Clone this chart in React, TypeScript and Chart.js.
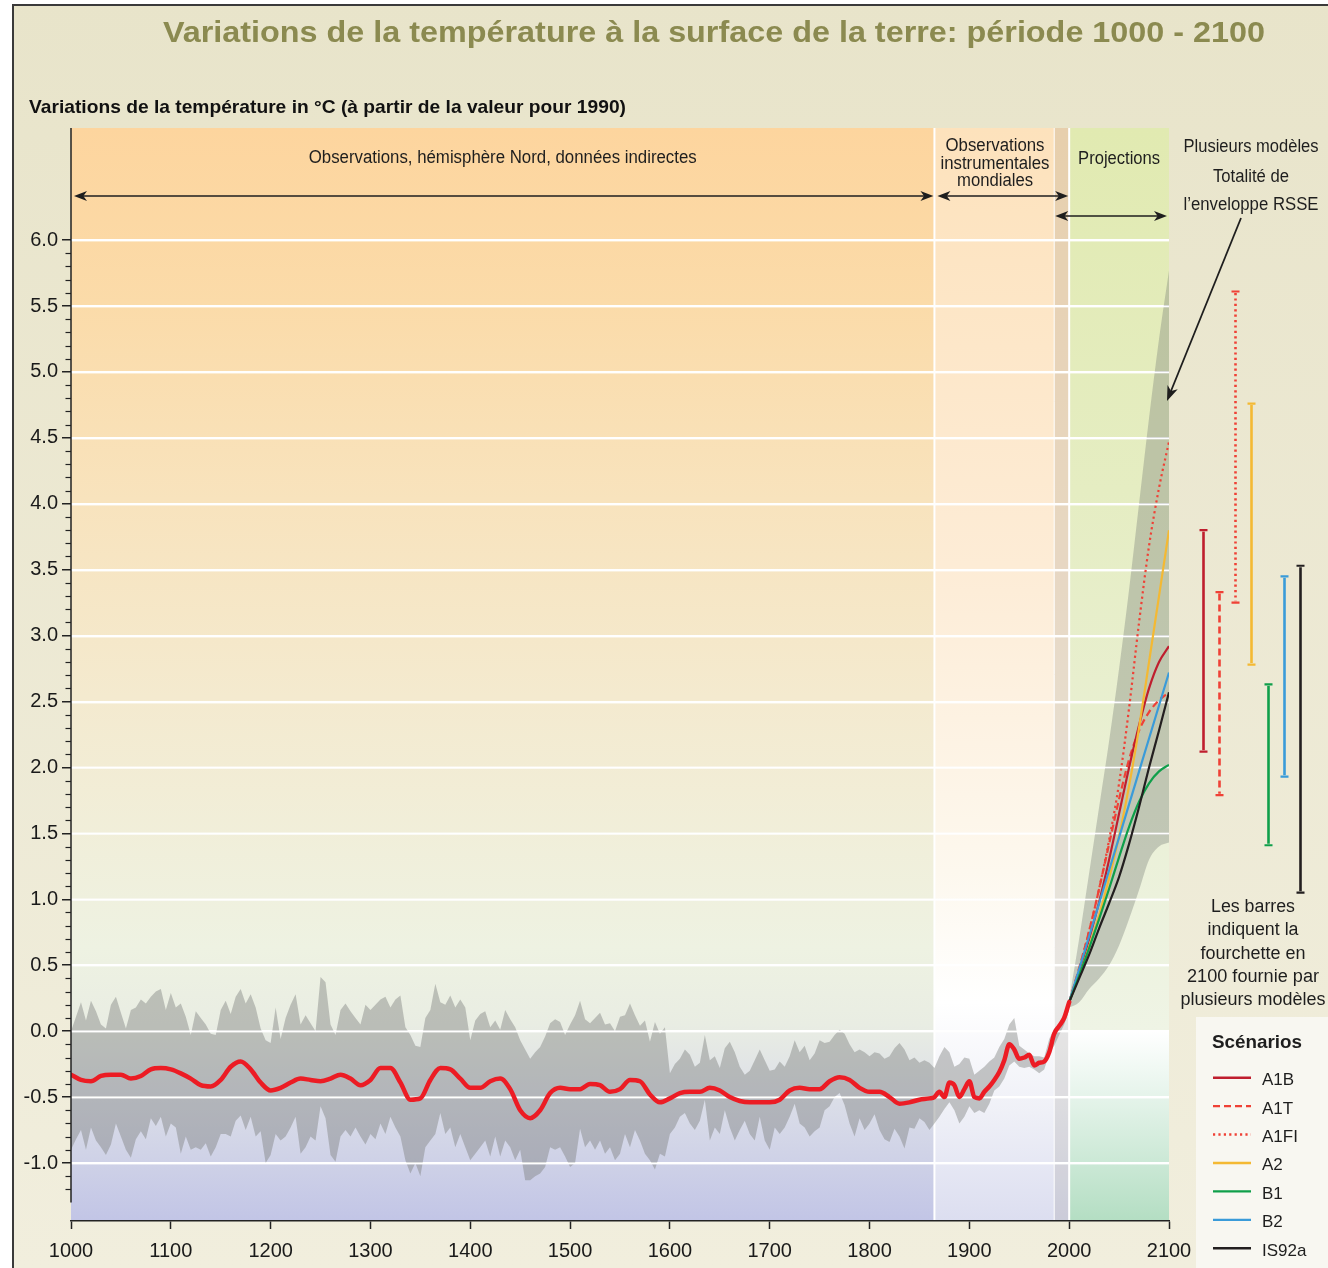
import React, { useEffect, useRef } from 'react';
import { Chart, registerables } from 'chart.js';

Chart.register(...registerables);

const FONT = '"Liberation Sans", Arial, Helvetica, sans-serif';
const W = 1328;
const H = 1268;

// ---------------- DATA ----------------
// Uncertainty band of reconstructed / measured temperatures, 1000-2000, every 5 years
const BAND_START_YEAR = 1000;
const BAND_STEP_YEARS = 5;
const bandUpper = [
  0.0, 0.11, 0.22, 0.08, 0.23, 0.15, 0.05, 0.02, 0.2, 0.26,
  0.14, 0.02, 0.16, 0.18, 0.24, 0.21, 0.26, 0.3, 0.32, 0.16,
  0.29, 0.18, 0.21, 0.11, -0.03, 0.15, 0.1, 0.05, -0.02, -0.03,
  0.16, 0.23, 0.13, 0.26, 0.32, 0.21, 0.28, 0.18, 0.02, -0.07,
  -0.09, 0.18, -0.06, 0.1, 0.2, 0.28, 0.05, 0.12, 0.06, 0.0,
  0.41, 0.37, 0.05, -0.03, 0.16, 0.21, 0.15, 0.1, 0.05, 0.2,
  0.16, 0.2, 0.24, 0.26, 0.18, 0.24, 0.27, 0.03, -0.03, -0.11,
  -0.12, 0.1, 0.16, 0.36, 0.22, 0.2, 0.27, 0.18, 0.24, 0.18,
  -0.07, 0.08, 0.13, 0.15, 0.03, 0.08, 0.01, 0.16, 0.09, 0.03,
  -0.07, -0.14, -0.21, -0.16, -0.12, -0.04, 0.06, 0.09, 0.07, -0.03,
  0.05, 0.12, 0.23, 0.09, 0.06, 0.1, 0.14, 0.05, 0.06, 0.0,
  0.11, 0.12, 0.21, 0.12, 0.04, 0.08, -0.08, 0.07, -0.02, 0.03,
  -0.32, -0.25, -0.21, -0.14, -0.18, -0.27, -0.24, -0.03, -0.22, -0.19,
  -0.28, -0.13, -0.08, -0.16, -0.27, -0.33, -0.3, -0.22, -0.14, -0.22,
  -0.3, -0.29, -0.23, -0.27, -0.19, -0.07, -0.16, -0.11, -0.22, -0.17,
  -0.07, -0.09, -0.08, -0.03, 0.01, -0.02, -0.1, -0.16, -0.14, -0.16,
  -0.19, -0.16, -0.17, -0.21, -0.19, -0.13, -0.09, -0.14, -0.22, -0.2,
  -0.24, -0.22, -0.24, -0.28, -0.19, -0.12, -0.16, -0.27, -0.25, -0.2,
  -0.21, -0.33, -0.3, -0.27, -0.23, -0.2, -0.12, -0.06, 0.05, 0.1,
  -0.11, -0.14, -0.17, -0.19, -0.19, -0.2, -0.06, 0.02, 0.06, 0.1,
  0.2,
];
const bandLower = [
  -0.9, -0.82, -0.75, -0.9, -0.73, -0.83, -0.88, -0.94, -0.86, -0.7,
  -0.8, -0.9, -0.96, -0.82, -0.76, -0.82, -0.66, -0.72, -0.65, -0.8,
  -0.7, -0.73, -0.93, -0.8, -0.9, -0.88, -0.9, -0.85, -0.95, -0.88,
  -0.78, -0.78, -0.8, -0.68, -0.64, -0.75, -0.65, -0.8, -0.76, -1.0,
  -0.94, -0.78, -0.83, -0.8, -0.73, -0.65, -0.93, -0.88, -0.8, -0.83,
  -0.57, -0.66, -0.94, -0.99, -0.8, -0.75, -0.8, -0.73, -0.8, -0.86,
  -0.78, -0.82, -0.7, -0.78, -0.65, -0.73, -0.8, -0.98, -1.08, -1.0,
  -1.1, -0.88, -0.83, -0.78, -0.62, -0.78, -0.73, -0.88, -0.78, -0.88,
  -0.98, -0.93, -0.88, -0.83, -0.95, -0.8, -0.95, -0.83, -0.88, -0.98,
  -0.9, -1.13, -1.13, -1.1, -1.08, -1.03, -0.88, -0.9, -0.88, -0.95,
  -1.03, -1.0, -0.74, -0.88, -0.83, -0.9, -0.83, -0.93, -0.88, -0.98,
  -0.93, -0.78, -0.88, -0.75, -0.83, -0.93, -0.98, -1.05, -0.93, -0.95,
  -0.78, -0.73, -0.65, -0.62, -0.7, -0.75, -0.68, -0.52, -0.83, -0.73,
  -0.78, -0.6, -0.73, -0.83, -0.75, -0.68, -0.78, -0.83, -0.65, -0.83,
  -0.9, -0.73, -0.78, -0.73, -0.65, -0.55, -0.7, -0.73, -0.8, -0.76,
  -0.73, -0.6, -0.57, -0.5, -0.47, -0.56, -0.7, -0.8, -0.66, -0.75,
  -0.7, -0.63, -0.75, -0.82, -0.84, -0.74, -0.8, -0.89, -0.73, -0.74,
  -0.66, -0.69, -0.75, -0.7, -0.65, -0.59, -0.54, -0.6, -0.7, -0.65,
  -0.57, -0.62, -0.6, -0.62, -0.55, -0.45, -0.42, -0.36, -0.26, -0.23,
  -0.27, -0.28, -0.27, -0.29, -0.32, -0.29, -0.17, -0.11, -0.03, 0.05,
  0.16,
];

// Smoothed northern-hemisphere proxy series, 1000-1860 every 10 years
const PROXY_START_YEAR = 1000;
const PROXY_STEP_YEARS = 10;
const redProxy = [
  -0.33, -0.37, -0.38, -0.34, -0.33, -0.33, -0.36, -0.34, -0.29, -0.28,
  -0.29, -0.32, -0.36, -0.41, -0.42, -0.37, -0.27, -0.23, -0.29, -0.39,
  -0.45, -0.43, -0.39, -0.36, -0.37, -0.38, -0.36, -0.33, -0.36, -0.41,
  -0.37, -0.28, -0.28, -0.39, -0.52, -0.51, -0.37, -0.28, -0.29, -0.36,
  -0.43, -0.43, -0.38, -0.36, -0.44, -0.6, -0.66, -0.6, -0.47, -0.43,
  -0.44, -0.44, -0.4, -0.41, -0.46, -0.44, -0.37, -0.38, -0.48, -0.54,
  -0.51, -0.47, -0.46, -0.46, -0.43, -0.45, -0.5, -0.53, -0.54, -0.54,
  -0.54, -0.52, -0.45, -0.43, -0.44, -0.44, -0.38, -0.35, -0.37, -0.43,
  -0.46, -0.46, -0.5, -0.55, -0.54, -0.52, -0.51,
];
// Instrumental global series, 1865-2000 every 5 years
const INSTR_START_YEAR = 1865;
const INSTR_STEP_YEARS = 5;
const redInstrumental = [
  -0.5, -0.46, -0.5, -0.39, -0.41, -0.5, -0.44, -0.38, -0.5, -0.51,
  -0.46, -0.42, -0.37, -0.31, -0.22, -0.1, -0.14, -0.21, -0.2, -0.18,
  -0.26, -0.24, -0.23, -0.16, -0.02, 0.04, 0.1, 0.22,
];

// Projections 2000-2100
const projYears = [2000, 2010, 2020, 2030, 2040, 2050, 2060, 2070, 2080, 2090, 2100];
const envUpper = [0.24, 0.7, 1.2, 1.7, 2.2, 2.75, 3.35, 4.0, 4.65, 5.25, 5.77];
const envLower = [0.18, 0.22, 0.32, 0.4, 0.5, 0.65, 0.85, 1.07, 1.3, 1.4, 1.43];
const projA1B = [0.22, 0.45, 0.7, 0.98, 1.3, 1.65, 2.0, 2.32, 2.6, 2.8, 2.92];
const projA1T = [0.22, 0.48, 0.76, 1.08, 1.42, 1.76, 2.06, 2.28, 2.42, 2.51, 2.57];
const projA1FI = [0.22, 0.47, 0.76, 1.08, 1.45, 1.88, 2.45, 3.1, 3.68, 4.12, 4.47];
const projA2 = [0.22, 0.42, 0.64, 0.88, 1.16, 1.48, 1.86, 2.3, 2.8, 3.3, 3.8];
const projB1 = [0.22, 0.42, 0.63, 0.85, 1.08, 1.32, 1.55, 1.74, 1.88, 1.97, 2.02];
const projB2 = [0.22, 0.47, 0.72, 0.97, 1.22, 1.47, 1.72, 1.97, 2.22, 2.47, 2.72];
const projIS92a = [0.22, 0.4, 0.58, 0.78, 0.97, 1.17, 1.42, 1.7, 2.0, 2.28, 2.57];

const scenarioNames = ['A1B', 'A1T', 'A1FI', 'A2', 'B1', 'B2', 'IS92a'];
const scenarioSeries = [projA1B, projA1T, projA1FI, projA2, projB1, projB2, projIS92a];
const scenarioColors = ['#bf1e2e', '#ef4136', '#ef4136', '#f4b933', '#0f9f4a', '#3a9bd9', '#231f20'];
const scenarioDashes: number[][] = [[], [7, 4], [2.2, 3.2], [], [], [], []];
const scenarioOrder = [6, 7, 8, 5, 3, 4, 2];

// 2100 ranges given by several models
const rangeLow = [2.12, 1.79, 3.25, 2.78, 1.41, 1.93, 1.05];
const rangeHigh = [3.8, 3.33, 5.61, 4.76, 2.63, 3.45, 3.53];

// Period boundaries (years)
const regionYears = [1000, 1865, 1985, 2000, 2100];

// Y axis ticks
const Y_MIN = -1.44;
const Y_MAX = 6.85;
const Y_LABEL_MIN = -1.0;
const Y_LABEL_MAX = 6.0;

// ---------------- HELPERS ----------------
function fitText(
  ctx: CanvasRenderingContext2D, s: string, x: number, base: number, size: number,
  weight: string, color: string, width?: number, align: CanvasTextAlign = 'center'
) {
  ctx.save();
  ctx.font = `${weight} ${size}px ${FONT}`;
  ctx.fillStyle = color;
  ctx.textBaseline = 'alphabetic';
  ctx.textAlign = align;
  const w = ctx.measureText(s).width;
  const sx = width ? width / w : 1;
  ctx.translate(x, base);
  ctx.scale(sx, 1);
  ctx.fillText(s, 0, 0);
  ctx.restore();
}

function arrowHead(ctx: CanvasRenderingContext2D, x: number, y: number, ang: number, len = 13, half = 5) {
  ctx.save();
  ctx.translate(x, y);
  ctx.rotate(ang);
  ctx.beginPath();
  ctx.moveTo(0, 0);
  ctx.lineTo(-len, -half);
  ctx.lineTo(-len * 0.72, 0);
  ctx.lineTo(-len, half);
  ctx.closePath();
  ctx.fill();
  ctx.restore();
}

function dblArrow(ctx: CanvasRenderingContext2D, x1: number, x2: number, y: number) {
  ctx.beginPath();
  ctx.moveTo(x1 + 5, y);
  ctx.lineTo(x2 - 5, y);
  ctx.stroke();
  arrowHead(ctx, x2, y, 0);
  arrowHead(ctx, x1, y, Math.PI);
}

function gradient(ctx: CanvasRenderingContext2D, y1: number, y2: number, stops: [number, string][]) {
  const g = ctx.createLinearGradient(0, y1, 0, y2);
  stops.forEach(([o, c]) => g.addColorStop(o, c));
  return g;
}

const BAND_DATASETS = new Set<number>([0, 2]);

const decorPlugin = {
  id: 'decor',
  beforeDraw(chart: any) {
    const { ctx, chartArea: ca } = chart;
    const xs = chart.scales.x;
    const ys = chart.scales.y;
    ctx.save();
    ctx.fillStyle = '#ffffff';
    ctx.fillRect(0, 0, W, H);
    ctx.fillStyle = gradient(ctx, 0, H, [[0, '#e8e4ca'], [1, '#f1eedd']]);
    ctx.fillRect(13, 5, W - 13, H - 5);
    ctx.strokeStyle = '#3a3a3a';
    ctx.lineWidth = 2;
    ctx.beginPath();
    ctx.moveTo(13, H);
    ctx.lineTo(13, 5);
    ctx.lineTo(W, 5);
    ctx.stroke();

    const [r0, r1, r2, r3, r4] = regionYears.map((v) => xs.getPixelForValue(v));
    const top = ca.top, bot = ca.bottom, h = bot - top;
    ctx.fillStyle = gradient(ctx, top, bot, [
      [0, '#fdd59e'], [0.16, '#fbdba9'], [0.34, '#f8e3bd'], [0.52, '#f4eacf'],
      [0.75, '#eef2e2'], [0.82, '#e9ede3'], [0.88, '#dde0e8'], [1, '#c2c5e6'],
    ]);
    ctx.fillRect(r0, top, r1 - r0, h);
    ctx.fillStyle = gradient(ctx, top, bot, [
      [0, '#fde2bc'], [0.4, '#fdecd6'], [0.68, '#fdf8ee'], [0.8, '#ffffff'], [0.9, '#eff0f7'], [1, '#dcdef0'],
    ]);
    ctx.fillRect(r1, top, r3 - r1, h);
    ctx.fillStyle = 'rgba(110,98,88,0.15)';
    ctx.fillRect(r2, top, r3 - r2, h);
    const y0 = ys.getPixelForValue(0);
    ctx.fillStyle = gradient(ctx, top, y0, [[0, '#e1eab1'], [0.4, '#e5edc2'], [0.75, '#eaf0d6'], [1, '#eff4e5']]);
    ctx.fillRect(r3, top, r4 - r3, y0 - top);
    ctx.fillStyle = gradient(ctx, y0, bot, [[0, '#ffffff'], [1, '#b4dec3']]);
    ctx.fillRect(r3, y0, r4 - r3, bot - y0);

    ctx.strokeStyle = '#ffffff';
    ctx.lineWidth = 2;
    [r1, r3].forEach((px) => {
      ctx.beginPath();
      ctx.moveTo(px, top);
      ctx.lineTo(px, bot);
      ctx.stroke();
    });
    ctx.lineWidth = 1;
    ctx.beginPath();
    ctx.moveTo(r2, top);
    ctx.lineTo(r2, bot);
    ctx.stroke();
    ctx.restore();
  },
  afterDatasetDraw(chart: any, args: any) {
    if (!BAND_DATASETS.has(args.index)) return;
    const { ctx, chartArea: ca } = chart;
    const ys = chart.scales.y;
    ctx.save();
    ctx.strokeStyle = 'rgba(255,255,255,0.95)';
    ctx.lineWidth = 1.5;
    ys.ticks.forEach((t: any) => {
      const py = Math.round(ys.getPixelForValue(t.value)) + 0.5;
      ctx.beginPath();
      ctx.moveTo(ca.left, py);
      ctx.lineTo(ca.right, py);
      ctx.stroke();
    });
    ctx.restore();
  },
  afterDraw(chart: any) {
    const { ctx, chartArea: ca } = chart;
    const xs = chart.scales.x;
    const ys = chart.scales.y;
    ctx.save();

    // y axis line and minor ticks
    ctx.strokeStyle = '#222';
    ctx.lineWidth = 1.5;
    ctx.beginPath();
    ctx.moveTo(ca.left, ca.top);
    ctx.lineTo(ca.left, ys.getPixelForValue(-1.3));
    ctx.stroke();
    ctx.lineWidth = 1.2;
    for (let k = -12; k <= 60; k++) {
      if (k % 5 === 0) continue;
      const py = Math.round(ys.getPixelForValue(k / 10)) + 0.5;
      ctx.beginPath();
      ctx.moveTo(ca.left - 5.5, py);
      ctx.lineTo(ca.left, py);
      ctx.stroke();
    }

    // Title and subtitle
    fitText(ctx, 'Variations de la température à la surface de la terre: période 1000 - 2100', 714, 42, 30, 'bold', '#8b8a50', 1102);
    fitText(ctx, 'Variations de la température in °C (à partir de la valeur pour 1990)', 29, 113, 19, 'bold', '#111', 597, 'left');

    // Period headers
    const [r0, r1, r2, r3, r4] = regionYears.map((v) => xs.getPixelForValue(v));
    const tc = '#1e1e1e';
    fitText(ctx, 'Observations, hémisphère Nord, données indirectes', (r0 + r1) / 2, 163, 18, 'normal', tc, 388);
    fitText(ctx, 'Observations', 995, 150.5, 18, 'normal', tc, 99);
    fitText(ctx, 'instrumentales', 995, 168.5, 18, 'normal', tc, 109);
    fitText(ctx, 'mondiales', 995, 186, 18, 'normal', tc, 76);
    fitText(ctx, 'Projections', (r3 + r4) / 2, 163.5, 18, 'normal', tc, 82);

    ctx.strokeStyle = '#1e1e1e';
    ctx.fillStyle = '#1e1e1e';
    ctx.lineWidth = 1.6;
    dblArrow(ctx, r0 + 3, r1 - 1, 196);
    dblArrow(ctx, r1 + 3, r3 - 1, 196);
    dblArrow(ctx, r2 + 1, r4 - 2, 216);

    // Envelope note with pointer
    fitText(ctx, 'Plusieurs modèles', 1251, 152, 18, 'normal', tc, 135);
    fitText(ctx, 'Totalité de', 1251, 181.5, 18, 'normal', tc, 76);
    fitText(ctx, 'l’enveloppe RSSE', 1251, 209.5, 18, 'normal', tc, 135);
    const tipX = 1167, tipY = 401;
    const sX = 1241, sY = 218;
    ctx.lineWidth = 1.8;
    ctx.beginPath();
    ctx.moveTo(sX, sY);
    ctx.lineTo(tipX + 4, tipY - 10);
    ctx.stroke();
    arrowHead(ctx, tipX, tipY, Math.atan2(tipY - sY, tipX - sX), 15, 5.5);

    // Range bars for 2100
    scenarioNames.forEach((_, i) => {
      const bx = Math.round(ca.right + 34 + i * 16.15) + 0.5;
      const yt = ys.getPixelForValue(rangeHigh[i]);
      const yb = ys.getPixelForValue(rangeLow[i]);
      ctx.strokeStyle = scenarioColors[i];
      ctx.lineWidth = 2.6;
      ctx.setLineDash(scenarioDashes[i]);
      ctx.beginPath();
      ctx.moveTo(bx, yt + 1.5);
      ctx.lineTo(bx, yb - 1.5);
      ctx.stroke();
      ctx.setLineDash([]);
      ctx.lineWidth = 2.2;
      ctx.beginPath();
      ctx.moveTo(bx - 4, yt);
      ctx.lineTo(bx + 4, yt);
      ctx.moveTo(bx - 4, yb);
      ctx.lineTo(bx + 4, yb);
      ctx.stroke();
    });

    fitText(ctx, 'Les barres', 1253, 911.5, 18, 'normal', tc, 84);
    fitText(ctx, 'indiquent la', 1253, 935, 18, 'normal', tc, 91);
    fitText(ctx, 'fourchette en', 1253, 958.5, 18, 'normal', tc, 105);
    fitText(ctx, '2100 fournie par', 1253, 982, 18, 'normal', tc, 132);
    fitText(ctx, 'plusieurs modèles', 1253, 1005, 18, 'normal', tc, 145);

    // Legend
    ctx.fillStyle = '#f8f7f1';
    ctx.fillRect(1196, 1017, W - 1196, H - 1017);
    fitText(ctx, 'Scénarios', 1257, 1048, 19, 'bold', '#1e1e1e', 90);
    scenarioNames.forEach((name, i) => {
      const ly = 1077.7 + i * 28.43;
      ctx.strokeStyle = scenarioColors[i];
      ctx.lineWidth = 2.4;
      ctx.setLineDash(scenarioDashes[i]);
      ctx.beginPath();
      ctx.moveTo(1213, ly);
      ctx.lineTo(1251, ly);
      ctx.stroke();
      ctx.setLineDash([]);
      fitText(ctx, name, 1262, ly + 7.5, 17, 'normal', '#1e1e1e', undefined, 'left');
    });
    ctx.restore();
  },
};

function buildConfig(): any {
  const bandUpperPts = bandUpper.map((v, i) => ({ x: BAND_START_YEAR + i * BAND_STEP_YEARS, y: v }));
  const bandLowerPts = bandLower.map((v, i) => ({ x: BAND_START_YEAR + i * BAND_STEP_YEARS, y: v }));
  const redPts = [
    ...redProxy.map((v, i) => ({ x: PROXY_START_YEAR + i * PROXY_STEP_YEARS, y: v })),
    ...redInstrumental.map((v, i) => ({ x: INSTR_START_YEAR + i * INSTR_STEP_YEARS, y: v })),
  ];
  const datasets: any[] = [
    { data: bandUpperPts, borderWidth: 0, pointRadius: 0, fill: '+1', backgroundColor: 'rgba(122,125,122,0.42)', tension: 0, order: 20 },
    { data: bandLowerPts, borderWidth: 0, pointRadius: 0, fill: false, tension: 0, order: 21 },
    { data: envUpper.map((v, i) => ({ x: projYears[i], y: v })), borderWidth: 0, pointRadius: 0, fill: '+1', backgroundColor: 'rgba(120,126,118,0.36)', cubicInterpolationMode: 'monotone', order: 18 },
    { data: envLower.map((v, i) => ({ x: projYears[i], y: v })), borderWidth: 0, pointRadius: 0, fill: false, cubicInterpolationMode: 'monotone', order: 19 },
  ];
  scenarioSeries.forEach((s, i) => {
    datasets.push({
      data: s.map((v, j) => ({ x: projYears[j], y: v })),
      borderColor: scenarioColors[i],
      borderWidth: 2.2,
      borderDash: scenarioDashes[i],
      pointRadius: 0,
      fill: false,
      cubicInterpolationMode: 'monotone',
      order: scenarioOrder[i],
    });
  });
  datasets.push({
    data: redPts,
    borderColor: '#ec1c24',
    borderWidth: 4.5,
    pointRadius: 0,
    fill: false,
    cubicInterpolationMode: 'monotone',
    borderCapStyle: 'round',
    borderJoinStyle: 'round',
    order: 1,
  });

  return {
    type: 'line',
    data: { datasets },
    options: {
      animation: false,
      responsive: false,
      devicePixelRatio: 1,
      events: [],
      layout: { padding: { left: 0, right: 159, top: 128, bottom: 0 } },
      plugins: { legend: { display: false }, tooltip: { enabled: false }, title: { display: false } },
      scales: {
        x: {
          type: 'linear',
          min: 1000,
          max: 2100,
          afterFit: (s: any) => { s.height = 47; },
          grid: { drawOnChartArea: false, drawTicks: true, tickLength: 8, tickColor: '#222', tickWidth: 1.5 },
          border: { display: true, color: '#222', width: 1.5 },
          ticks: {
            stepSize: 100, autoSkip: false, maxRotation: 0, padding: 10,
            font: { size: 20, family: FONT }, color: '#1a1a1a',
            callback: (v: any) => String(v),
          },
        },
        y: {
          type: 'linear',
          min: Y_MIN,
          max: Y_MAX,
          afterFit: (s: any) => { s.width = 71; },
          afterBuildTicks: (s: any) => {
            s.ticks = s.ticks.filter((t: any) => t.value >= Y_LABEL_MIN - 0.001 && t.value <= Y_LABEL_MAX + 0.001);
          },
          grid: { color: '#ffffff', lineWidth: 1.5, drawTicks: true, tickLength: 9, tickColor: '#222', tickWidth: 1.5 },
          border: { display: false },
          ticks: {
            stepSize: 0.5, includeBounds: false, padding: 4,
            font: { size: 20, family: FONT }, color: '#1a1a1a',
            callback: (v: any) => Number(v).toFixed(1),
          },
        },
      },
    },
    plugins: [decorPlugin],
  };
}

export default function App() {
  const ref = useRef<HTMLCanvasElement>(null);
  useEffect(() => {
    if (!ref.current) return;
    const chart = new Chart(ref.current, buildConfig());
    return () => chart.destroy();
  }, []);
  return (
    <canvas
      ref={ref}
      width={W}
      height={H}
      style={{ position: 'fixed', left: 0, top: 0, width: W, height: H, display: 'block' }}
    />
  );
}
